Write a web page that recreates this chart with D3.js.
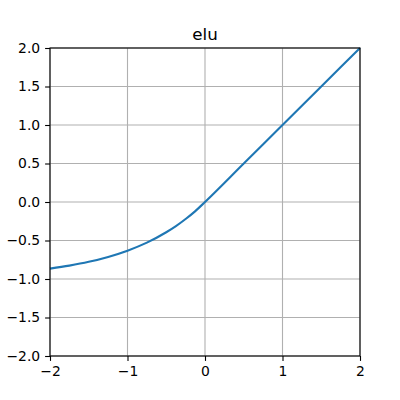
<!DOCTYPE html>
<html>
<head>
<meta charset="utf-8">
<script src="https://cdn.jsdelivr.net/npm/d3@7"></script>
<style>
body { margin: 0; background: #fff; }
svg { display: block; font-family: "DejaVu Sans", sans-serif; }
</style>
</head>
<body>
<svg width="400" height="400"></svg>
<script>
// values
const xs = [-2, -1.75, -1.5, -1.25, -1, -0.75, -0.5, -0.375, -0.25, -0.125, 0, 0.5, 1, 1.5, 2];
const ys = [-0.865, -0.826, -0.777, -0.713, -0.632, -0.528, -0.393, -0.313, -0.221, -0.118, 0, 0.5, 1, 1.5, 2];
const xTicks = [-2, -1, 0, 1, 2];
const yTicks = [-2.0, -1.5, -1.0, -0.5, 0.0, 0.5, 1.0, 1.5, 2.0];
const title = "elu";

const margin = {top: 48, right: 40, bottom: 44, left: 50};
const width = 400 - margin.left - margin.right;
const height = 400 - margin.top - margin.bottom;

const svg = d3.select('svg');
const chart = svg.append('g')
    .attr('transform', 'translate(' + margin.left + ',' + margin.top + ')');

const x = d3.scaleLinear().domain([-2, 2]).range([0, width]);
const y = d3.scaleLinear().domain([-2, 2]).range([height, 0]);

// grid
chart.selectAll('.gx').data(xTicks).enter().append('line')
    .attr('x1', d => x(d)).attr('x2', d => x(d))
    .attr('y1', 0).attr('y2', height)
    .attr('stroke', '#b0b0b0').attr('stroke-width', 1.1);
chart.selectAll('.gy').data(yTicks).enter().append('line')
    .attr('x1', 0).attr('x2', width)
    .attr('y1', d => y(d)).attr('y2', d => y(d))
    .attr('stroke', '#b0b0b0').attr('stroke-width', 1.1);

const minus = s => s.replace('-', '\u2212');
const xAxis = d3.axisBottom(x).tickValues(xTicks).tickSize(4.9).tickPadding(4.9)
    .tickFormat(d => minus(d3.format('d')(d)));
const yAxis = d3.axisLeft(y).tickValues(yTicks).tickSize(4.9).tickPadding(4.9)
    .tickFormat(d => minus(d3.format('.1f')(d)));

const styleAxis = g => {
    g.select('.domain').remove();
    g.selectAll('line').attr('stroke', '#000').attr('stroke-width', 1.1);
    g.selectAll('text').attr('fill', '#000').style('font-size', '13.9px')
        .style('font-family', '"DejaVu Sans", sans-serif');
};

chart.append('g').attr('transform', 'translate(0,' + height + ')').call(xAxis).call(styleAxis);
chart.append('g').call(yAxis).call(styleAxis);

const line = d3.line().x(d => x(d[0])).y(d => y(d[1])).curve(d3.curveMonotoneX);
chart.append('path')
    .datum(xs.map((v, i) => [v, ys[i]]))
    .attr('fill', 'none')
    .attr('stroke', '#1f77b4')
    .attr('stroke-width', 2.1)
    .attr('d', line);

// frame
chart.append('rect')
    .attr('width', width).attr('height', height)
    .attr('fill', 'none').attr('stroke', '#000').attr('stroke-width', 1.1);

chart.append('text')
    .attr('x', width / 2).attr('y', -8.3)
    .attr('text-anchor', 'middle')
    .style('font-size', '16.7px')
    .text(title);
</script>
</body>
</html>
